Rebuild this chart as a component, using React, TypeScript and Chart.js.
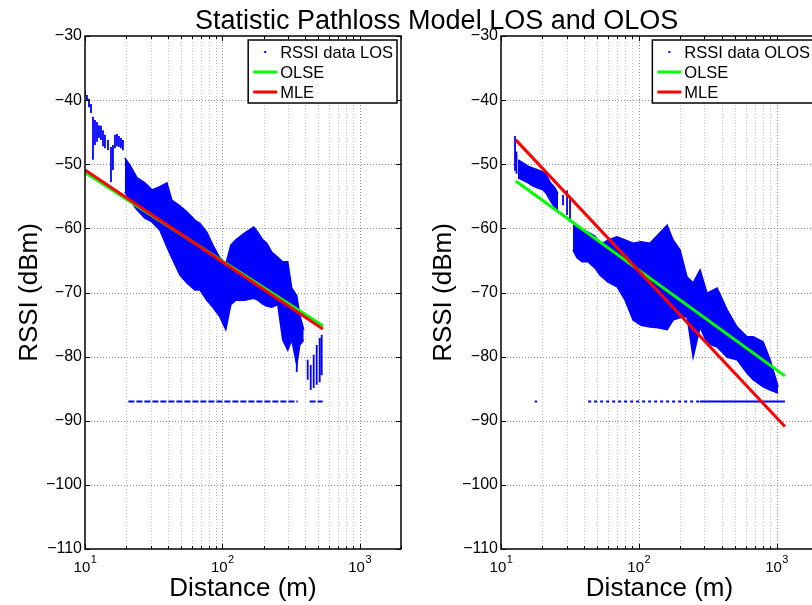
import React, { useEffect, useRef } from 'react';
import { Chart, registerables } from 'chart.js';

Chart.register(...registerables);

const FONT = '"Liberation Sans", Arial, Helvetica, sans-serif';
const BLUE = '#0000ff';
const GREEN = '#00ff00';
const RED = '#ff0000';

// ---------- axes ----------
const X_TICKS = [10, 20, 30, 40, 50, 60, 70, 80, 90, 100, 200, 300, 400, 500, 600, 700, 800, 900, 1000, 2000];
const X_LABEL_DECADES = [10, 100, 1000];
const X_LABEL_EXPONENTS = ['1', '2', '3'];
const Y_TICKS = [-110, -100, -90, -80, -70, -60, -50, -40, -30];
const FLOOR_RSSI = -87;

// ---------- LOS panel ----------
const LOS_LABELS = ['RSSI data LOS', 'OLSE', 'MLE'];
// dense cloud envelope
const LOS_BAND_DIST = [19.5, 21.2, 23.9, 27.3, 30.7, 35.1, 39.5, 42.9, 49.1, 55.2, 63.1, 68.6, 77.1, 85.3, 95.9, 106, 115.3, 125.4, 145.8, 169.4, 181.2, 197, 210.7, 229.1, 253.3, 275.4, 299.5, 320.2, 348.4, 366.2, 391.4];
const LOS_BAND_TOP = [-49.0, -50.1, -52.1, -52.9, -54.0, -53.5, -52.9, -55.6, -56.5, -57.4, -58.7, -59.2, -60.6, -62.6, -64.6, -65.6, -62.6, -61.8, -60.7, -59.8, -60.6, -61.8, -62.3, -63.7, -64.5, -65.2, -65.2, -69.3, -70.5, -73.5, -75.8];
const LOS_BAND_BOTTOM = [-54.3, -55.6, -57.1, -58.4, -59.0, -60.3, -62.9, -64.6, -67.3, -68.5, -69.6, -69.6, -71.2, -72.3, -73.8, -75.8, -71.9, -71.2, -71.2, -70.9, -71.2, -71.8, -72.1, -72.3, -71.9, -77.4, -79.0, -77.4, -81.3, -78.2, -77.4];
// sparse strands of samples
const LOS_STRAND_DIST = [10.0, 10.34, 10.69, 11.06, 11.43, 11.82, 12.23, 12.64, 13.07, 13.52, 13.98, 14.7, 15.46, 15.98, 16.53, 17.09, 17.67, 18.27, 18.89, 348.4, 418.5, 440.3, 462.7, 486.6, 511.8, 529.2];
const LOS_STRAND_TOP = [-38.6, -39.2, -39.8, -40.6, -42.6, -43.1, -43.4, -43.9, -44.0, -44.7, -45.4, -46.2, -47.3, -47.0, -45.4, -45.3, -45.6, -45.9, -46.2, -77.4, -80.5, -81.3, -79.7, -78.2, -77.1, -76.6];
const LOS_STRAND_BOTTOM = [-39.4, -40.1, -41.1, -42.0, -49.3, -47.0, -46.5, -45.9, -46.2, -47.2, -47.5, -47.8, -52.8, -50.9, -47.5, -47.2, -47.3, -47.5, -47.8, -82.4, -83.6, -85.2, -84.9, -84.4, -84.0, -82.9];
const LOS_FLOOR_SEGMENTS = [[20.7, 354], [432, 538]];
const LOS_OLSE_DIST = [10, 540];
const LOS_OLSE_RSSI = [-51.3, -75.2];
const LOS_MLE_DIST = [10, 540];
const LOS_MLE_RSSI = [-50.9, -75.7];

// ---------- OLOS panel ----------
const OLOS_LABELS = ['RSSI data OLOS', 'OLSE', 'MLE'];
const OLOS_BAND1_DIST = [13.29, 14.45, 15.71, 17.08, 18.57, 20.18, 21.22, 22.69, 24.67, 25.94];
const OLOS_BAND1_TOP = [-49.3, -49.8, -50.3, -50.6, -50.9, -51.2, -51.5, -52.8, -53.7, -54.6];
const OLOS_BAND1_BOTTOM = [-52.1, -52.5, -52.9, -53.4, -53.7, -54.0, -54.5, -55.6, -56.8, -57.1];
const OLOS_BAND2_DIST = [33.33, 35.64, 38.75, 42.83, 48.15, 52.36, 59.84, 69.56, 79.55, 90.92, 103.9, 120.8, 138.1, 160.6, 177.5, 199.5, 224.3, 248.0, 278.7, 313.3, 370.4, 437.8, 517.5, 611.6, 676.3, 799.3, 898.3, 1027];
const OLOS_BAND2_TOP = [-59.5, -59.9, -60.3, -60.6, -61.2, -62.6, -61.8, -61.3, -61.8, -62.3, -62.1, -62.3, -61.0, -59.5, -61.8, -63.4, -67.6, -68.5, -66.5, -70.1, -69.3, -72.7, -75.4, -76.9, -76.9, -77.7, -80.5, -84.7];
const OLOS_BAND2_BOTTOM = [-63.4, -64.6, -65.2, -65.2, -66.2, -67.3, -68.4, -69.1, -71.2, -74.3, -75.1, -75.4, -75.5, -75.8, -74.3, -73.9, -73.8, -80.1, -75.4, -77.9, -78.5, -80.1, -80.5, -82.6, -83.6, -84.7, -85.2, -85.7];
const OLOS_STRAND_DIST = [12.64, 12.95, 28.2, 30.15, 31.7];
const OLOS_STRAND_TOP = [-45.6, -48.0, -54.8, -54.1, -55.3];
const OLOS_STRAND_BOTTOM = [-51.0, -51.5, -56.4, -57.9, -59.0];
const OLOS_FLOOR_SPARSE = [[17.6, 18.3], [42.9, 278]];
const OLOS_FLOOR_DENSE = [[278, 1150]];
const OLOS_OLSE_DIST = [12.8, 1150];
const OLOS_OLSE_RSSI = [-52.6, -83.0];
const OLOS_MLE_DIST = [12.8, 1150];
const OLOS_MLE_RSSI = [-46.2, -90.9];

// ---------- dataset builders ----------
const pts = (xs: number[], ys: number[]) => xs.map((x, i) => ({ x, y: ys[i] }));

function fitLine(xs: number[], ys: number[], color: string) {
  return { data: pts(xs, ys), borderColor: color, borderWidth: 3, pointRadius: 0, fill: false };
}
function band(xs: number[], top: number[], bottom: number[]) {
  return [
    { data: pts(xs, top), borderColor: BLUE, backgroundColor: BLUE, borderWidth: 1.5, pointRadius: 0, fill: '+1' },
    { data: pts(xs, bottom), borderColor: BLUE, borderWidth: 1.5, pointRadius: 0, fill: false },
  ];
}
function strands(xs: number[], top: number[], bottom: number[]) {
  const data: any[] = [];
  xs.forEach((x, i) => {
    data.push({ x, y: top[i] }, { x, y: bottom[i] }, { x, y: null });
  });
  return { data, borderColor: BLUE, borderWidth: 1.8, pointRadius: 0, fill: false, spanGaps: false };
}
function floor(segs: number[][], dash: number[]) {
  const data: any[] = [];
  segs.forEach(([a, b]) => {
    data.push({ x: a, y: FLOOR_RSSI }, { x: b, y: FLOOR_RSSI }, { x: b, y: null });
  });
  return { data, borderColor: BLUE, borderWidth: 2.2, borderDash: dash, pointRadius: 0, fill: false, spanGaps: false };
}

// ---------- plugins ----------
const gridPlugin = {
  id: 'mlGrid',
  beforeDatasetsDraw(chart: any) {
    const { ctx, chartArea: a, scales } = chart;
    const x = scales.x, y = scales.y;
    ctx.save();
    ctx.lineWidth = 1;
    ctx.setLineDash([1, 2]);
    X_TICKS.forEach((v) => {
      const px = Math.round(x.getPixelForValue(v)) + 0.5;
      if (px <= a.left + 1 || px >= a.right - 1) return;
      ctx.strokeStyle = X_LABEL_DECADES.includes(v) ? '#8a8a8a' : '#c2c2c2';
      ctx.beginPath(); ctx.moveTo(px, a.top); ctx.lineTo(px, a.bottom); ctx.stroke();
    });
    Y_TICKS.forEach((v) => {
      const py = Math.round(y.getPixelForValue(v)) + 0.5;
      if (py <= a.top + 1 || py >= a.bottom - 1) return;
      ctx.strokeStyle = '#8a8a8a';
      ctx.beginPath(); ctx.moveTo(a.left, py); ctx.lineTo(a.right, py); ctx.stroke();
    });
    ctx.restore();
  },
  afterDatasetsDraw(chart: any) {
    const { ctx, chartArea: a, scales } = chart;
    const x = scales.x, y = scales.y;
    ctx.save();
    ctx.setLineDash([]);
    ctx.strokeStyle = '#000';
    ctx.lineWidth = 1;
    Y_TICKS.forEach((v) => {
      const py = Math.round(y.getPixelForValue(v)) + 0.5;
      ctx.beginPath();
      ctx.moveTo(a.left, py); ctx.lineTo(a.left + 5, py);
      ctx.moveTo(a.right, py); ctx.lineTo(a.right - 5, py);
      ctx.stroke();
    });
    X_TICKS.forEach((v) => {
      const px = Math.round(x.getPixelForValue(v)) + 0.5;
      const len = X_LABEL_DECADES.includes(v) ? 5 : 3;
      ctx.beginPath();
      ctx.moveTo(px, a.bottom); ctx.lineTo(px, a.bottom - len);
      ctx.moveTo(px, a.top); ctx.lineTo(px, a.top + len);
      ctx.stroke();
    });
    ctx.lineWidth = 1.5;
    ctx.strokeRect(a.left, a.top, a.right - a.left, a.bottom - a.top);
    ctx.restore();
  },
  afterDraw(chart: any, _args: any, opts: any) {
    const { ctx, chartArea: a, scales } = chart;
    const x = scales.x;
    ctx.save();
    // decade tick labels 10^n
    ctx.fillStyle = '#000';
    ctx.textBaseline = 'alphabetic';
    ctx.textAlign = 'left';
    X_LABEL_DECADES.forEach((v, i) => {
      const px = x.getPixelForValue(v);
      ctx.font = `15px ${FONT}`;
      const wb = ctx.measureText('10').width;
      ctx.font = `11px ${FONT}`;
      const we = ctx.measureText(X_LABEL_EXPONENTS[i]).width;
      const start = px - (wb + we) / 2;
      ctx.font = `15px ${FONT}`;
      ctx.fillText('10', start, a.bottom + 23);
      ctx.font = `11px ${FONT}`;
      ctx.fillText(X_LABEL_EXPONENTS[i], start + wb + 0.5, a.bottom + 14);
    });
    // legend box
    const labels: string[] = (opts && opts.labels) || [];
    if (labels.length) {
      ctx.font = `16.5px ${FONT}`;
      const tw = Math.max(...labels.map((l) => ctx.measureText(l).width));
      const bw = tw + 36;
      const bh = 63;
      const bx = a.right - 4 - bw;
      const by = a.top + 4;
      ctx.fillStyle = '#fff';
      ctx.fillRect(bx, by, bw, bh);
      ctx.strokeStyle = '#000';
      ctx.lineWidth = 1.5;
      ctx.strokeRect(bx, by, bw, bh);
      const rows = [by + 12, by + 32, by + 52];
      // sample marks
      ctx.fillStyle = BLUE;
      ctx.fillRect(bx + 16, rows[0] - 1, 2, 2);
      ctx.lineWidth = 3;
      ctx.strokeStyle = GREEN;
      ctx.beginPath(); ctx.moveTo(bx + 5, rows[1]); ctx.lineTo(bx + 29, rows[1]); ctx.stroke();
      ctx.strokeStyle = RED;
      ctx.beginPath(); ctx.moveTo(bx + 5, rows[2]); ctx.lineTo(bx + 29, rows[2]); ctx.stroke();
      ctx.fillStyle = '#000';
      ctx.textBaseline = 'middle';
      labels.forEach((l, i) => ctx.fillText(l, bx + 32, rows[i] + 1));
    }
    ctx.restore();
  },
};

function makeConfig(datasets: any[], labels: string[], yWidth: number, padRight: number, yTitlePad: number) {
  return {
    type: 'line',
    data: { datasets },
    plugins: [gridPlugin],
    options: {
      responsive: false,
      animation: false,
      events: [],
      layout: { padding: { left: 0, right: padRight, top: 36, bottom: 0 } },
      elements: { point: { radius: 0 }, line: { tension: 0 } },
      plugins: { legend: { display: false }, tooltip: { enabled: false }, mlGrid: { labels } },
      scales: {
        x: {
          type: 'logarithmic',
          min: 10,
          max: 2000,
          afterBuildTicks: (s: any) => { s.ticks = X_TICKS.map((value) => ({ value })); },
          afterFit: (s: any) => { s.height = 56; },
          grid: { display: false, drawTicks: false },
          border: { display: false },
          ticks: { display: false },
          title: { display: true, text: 'Distance (m)', color: '#000', font: { family: FONT, size: 26 }, padding: { top: 0, bottom: 1 } },
        },
        y: {
          type: 'linear',
          min: -110,
          max: -30,
          afterBuildTicks: (s: any) => { s.ticks = Y_TICKS.map((value) => ({ value })); },
          afterFit: (s: any) => { s.width = yWidth; },
          grid: { display: false, drawTicks: false },
          border: { display: false },
          ticks: {
            padding: 3,
            color: '#000',
            font: { family: FONT, size: 16 },
            callback: (v: any) => String(v).replace('-', '\u2212'),
          },
          title: { display: true, text: 'RSSI (dBm)', color: '#000', font: { family: FONT, size: 26 }, padding: { top: yTitlePad, bottom: 0 } },
        },
      },
    },
  };
}

export default function App() {
  const leftRef = useRef<HTMLCanvasElement>(null);
  const rightRef = useRef<HTMLCanvasElement>(null);

  useEffect(() => {
    const losSets = [
      fitLine(LOS_MLE_DIST, LOS_MLE_RSSI, RED),
      fitLine(LOS_OLSE_DIST, LOS_OLSE_RSSI, GREEN),
      floor(LOS_FLOOR_SEGMENTS, [6, 2]),
      strands(LOS_STRAND_DIST, LOS_STRAND_TOP, LOS_STRAND_BOTTOM),
      ...band(LOS_BAND_DIST, LOS_BAND_TOP, LOS_BAND_BOTTOM),
    ];
    const olosSets = [
      fitLine(OLOS_MLE_DIST, OLOS_MLE_RSSI, RED),
      fitLine(OLOS_OLSE_DIST, OLOS_OLSE_RSSI, GREEN),
      floor(OLOS_FLOOR_SPARSE, [3, 3]),
      floor(OLOS_FLOOR_DENSE, []),
      strands(OLOS_STRAND_DIST, OLOS_STRAND_TOP, OLOS_STRAND_BOTTOM),
      ...band(OLOS_BAND1_DIST, OLOS_BAND1_TOP, OLOS_BAND1_BOTTOM),
      ...band(OLOS_BAND2_DIST, OLOS_BAND2_TOP, OLOS_BAND2_BOTTOM),
    ];
    const c1 = new Chart(leftRef.current as HTMLCanvasElement, makeConfig(losSets, LOS_LABELS, 85, 9, 14) as any);
    const c2 = new Chart(rightRef.current as HTMLCanvasElement, makeConfig(olosSets, OLOS_LABELS, 91, 12, 18) as any);
    return () => { c1.destroy(); c2.destroy(); };
  }, []);

  return (
    <div style={{ position: 'fixed', left: 0, top: 0, width: 812, height: 605, overflow: 'hidden', background: '#fff' }}>
      <canvas ref={leftRef} width={410} height={605} style={{ position: 'absolute', left: 0, top: 0 }} />
      <canvas ref={rightRef} width={420} height={605} style={{ position: 'absolute', left: 410, top: 0 }} />
      <div style={{ position: 'absolute', left: 195, top: 7, fontFamily: FONT, fontSize: 27, lineHeight: '27px', whiteSpace: 'nowrap', color: '#000' }}>
        Statistic Pathloss Model LOS and OLOS
      </div>
    </div>
  );
}
